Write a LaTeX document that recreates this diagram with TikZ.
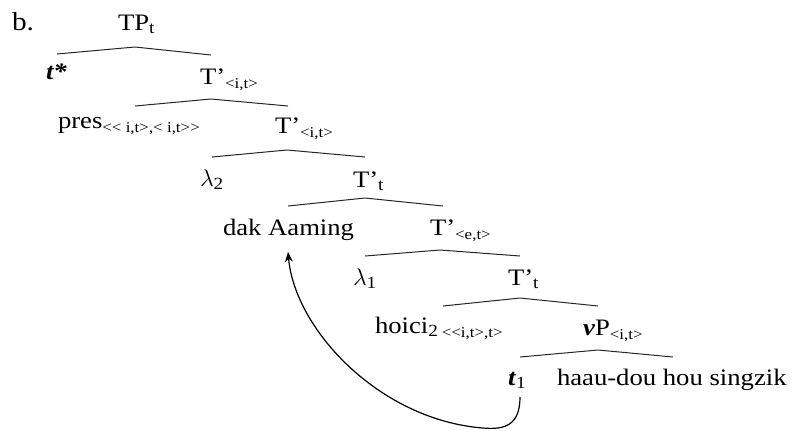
\documentclass[tikz,border=0pt]{standalone}
\usepackage{fontspec}
\setmainfont{Liberation Serif}[FakeStretch=1.13]
\usetikzlibrary{arrows.meta}
% small subscript for semantic types, and a regular subscript
\newcommand{\typesub}[1]{\raisebox{-0.45ex}{\fontsize{7.5}{8}\selectfont #1}}
\newcommand{\idx}[1]{\raisebox{-0.35ex}{\fontsize{8.5}{9}\selectfont #1}}
\tikzset{
  lbl/.style={anchor=base west, inner sep=0pt, outer sep=0pt, font=\fontsize{11.8}{14}\selectfont},
  branch/.style={line width=0.5pt, black!85},
  move/.style={line width=0.6pt, -{Stealth[length=5pt,width=4pt]}}
}
\begin{document}
\begin{tikzpicture}[x=0.5pt, y=-0.5pt]
\useasboundingbox (0,0) rectangle (795,430);

% labels
\node[lbl] (b)     at (12,30)  {\fontsize{13}{14}\selectfont b.};
\node[lbl] (tp)    at (118,30) {TP\idx{t}};
\node[lbl] (tstar) at (46,79)  {\textbf{\textit{t*}}};
\node[lbl] (tb1)   at (200,84) {T’\typesub{<i,t>}};
\node[lbl] (pres)  at (58,128) {pres\typesub{<{}< i,t>,< i,t>{}>}};
\node[lbl] (tb2)   at (275,133){T’\typesub{<i,t>}};
\node[lbl] (lam2)  at (200,186){$\lambda$\idx{2}};
\node[lbl] (tb3)   at (353,187){T’\idx{t}};
\node[lbl] (dak)   at (223,235){dak Aaming};
\node[lbl] (tb4)   at (430,235){T’\typesub{<e,t>}};
\node[lbl] (lam1)  at (353,285){$\lambda$\idx{1}};
\node[lbl] (tb5)   at (508,285){T’\idx{t}};
\node[lbl] (hoici) at (375,333){hoici\idx{2}\,\typesub{<{}<i,t>,t>}};
\node[lbl] (vp)    at (583,335){\textbf{\textit{v}}P\typesub{<i,t>}};
\node[lbl] (t1)    at (508,385){\textbf{\textit{t}}\idx{1}};
\node[lbl] (haau)  at (557,385){haau-dou hou singzik};

% branch points: left end, apex, right end of each split
\coordinate (l1) at (57,54);   \coordinate (a1) at (135,47);  \coordinate (r1) at (211,55);
\coordinate (l2) at (135,106); \coordinate (a2) at (211,99);  \coordinate (r2) at (288,106);
\coordinate (l3) at (212,157); \coordinate (a3) at (287,150); \coordinate (r3) at (365,157);
\coordinate (l4) at (288,206); \coordinate (a4) at (365,198); \coordinate (r4) at (443,206);
\coordinate (l5) at (365,256); \coordinate (a5) at (440,250); \coordinate (r5) at (520,256);
\coordinate (l6) at (443,306); \coordinate (a6) at (520,298); \coordinate (r6) at (598,306);
\coordinate (l7) at (520,357); \coordinate (a7) at (598,350); \coordinate (r7) at (673,357);

\foreach \i in {1,...,7} \draw[branch] (l\i) -- (a\i) -- (r\i);

% movement arrow from the trace up to the moved phrase
\coordinate (src) at (520,397);
\coordinate (low) at (483,428);
\coordinate (dst) at (288,252);
\draw[move] (src) .. controls (520,425) and (505,430) .. (low)
                  .. controls (380,420) and (295,330) .. (dst);
\end{tikzpicture}
\end{document}
